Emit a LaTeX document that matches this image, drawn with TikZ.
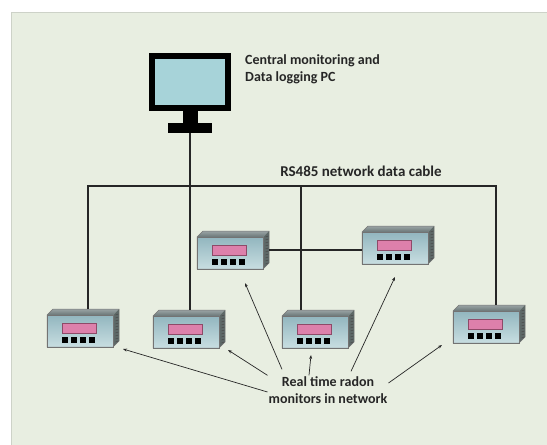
\documentclass[tikz,border=0pt]{standalone}
\usepackage{fontspec}
\setmainfont{Carlito}
\usepackage{tikz}
\usetikzlibrary{positioning,arrows.meta}
\usepackage{xcolor}
\definecolor{panel}{HTML}{E8EEE1}
\definecolor{panelrim}{HTML}{CDD2C8}
\definecolor{ink}{HTML}{262626}
\definecolor{pcscreen}{HTML}{A7D3D9}
\definecolor{facetop}{HTML}{92B6BF}
\definecolor{facebot}{HTML}{C8DEE1}
\definecolor{lidback}{HTML}{9AA4A5}
\definecolor{lidfront}{HTML}{6A7677}
\definecolor{flank}{HTML}{5E6968}
\definecolor{lcd}{HTML}{DD80AB}
\definecolor{lcdrim}{HTML}{8E4A68}

\begin{document}
\begin{tikzpicture}[x=1pt,y=-1pt,>={Stealth[length=4pt,width=3pt]},
  lbl/.style={font=\bfseries\fontsize{14}{17}\selectfont,text=ink,align=left,inner sep=1pt},
  cable/.style={line width=1.6pt,draw=black!85},
  pointer/.style={->,line width=0.7pt,draw=ink},
  radonbox/.style={minimum width=72pt,minimum height=38pt,inner sep=0pt,outer sep=0pt,anchor=north west}]
\useasboundingbox (0,0) rectangle (547,445);
\fill[white] (0,0) rectangle (547,445);
\fill[panel,draw=panelrim,line width=0.8pt] (11,12) rectangle (549,447);

% the PC
\node[draw=black,line width=6pt,fill=pcscreen,minimum width=76pt,minimum height=52pt,inner sep=0pt] (pc) at (190,81.5) {};
\node[fill=black,minimum width=15pt,minimum height=12pt,inner sep=0pt,below=0pt of pc] (pcneck) {};
\node[fill=black,minimum width=44pt,minimum height=10pt,inner sep=0pt,below=0pt of pcneck] (pcbase) {};
\node[lbl,anchor=north west] (pclbl) at (244,53) {Central monitoring and\\Data logging PC};

% radon monitors: lid, vented flank, front panel with display and keys
\foreach \n/\x/\y in {m1/47/309,m2/153/310,m3/197/231,m4/282/310,m5/453/305,m6/362/226} {
  \node[radonbox] (\n) at (\x,\y) {};
  \begin{scope}[shift={(\x,\y)}]
    \shade[top color=lidback,bottom color=lidfront] (0,6) -- (66,6) -- (72,0) -- (6,0) -- cycle;
    \fill[flank] (66,6) -- (72,0) -- (72,32) -- (66,38) -- cycle;
    \foreach \r in {6,9,...,33}
      \draw[black!70,line width=0.5pt] (68.5,\r) -- (71.5,\r-1);
    \shade[top color=facetop,bottom color=facebot,draw=black!55,line width=0.4pt] (0,6) rectangle (66,38);
    \fill[lcd,draw=lcdrim,line width=0.5pt] (15,14) rectangle (49,24);
    \foreach \k in {0,...,3}
      \fill[black] (15+9*\k,28) rectangle ++(6,6);
    \draw[black!55,line width=0.5pt] (0,38) -- (0,6) -- (6,0) -- (72,0) -- (72,32) -- (66,38) -- cycle;
  \end{scope}
}

% RS485 bus
\coordinate (bus) at (300,186);
\draw[cable] ([xshift=5pt]m1.north) |- (bus) -| ([xshift=7pt]m5.north);
\draw[cable] (pcbase.south) -- (pcbase.south |- m2.north);
\draw[cable] ([xshift=-17pt]m4.north) -- ([xshift=-17pt]m4.north |- bus);
\draw[cable] (m3.east) -- (m3.east -| m6.west);
\node[lbl,anchor=base,font=\bfseries\fontsize{15}{17}\selectfont] (buslbl) at (361,176) {RS485 network data cable};

% callout
\node[lbl,align=center] (radonlbl) at (328,390) {Real time radon\\monitors in network};
\draw[pointer] ([shift={(0,2)}]radonlbl.west) -- ([shift={(4,2)}]m1.south east);
\draw[pointer] (radonlbl.north west) -- ([shift={(3,2)}]m2.south east);
\draw[pointer] ([shift={(-46,-6)}]radonlbl.north) -- ([shift={(12,14)}]m3.south);
\draw[pointer] ([shift={(-19,0)}]radonlbl.north) -- ([shift={(-7,7)}]m4.south);
\draw[pointer] ([shift={(23,-4)}]radonlbl.north) -- ([shift={(-3,13)}]m6.south);
\draw[pointer] ([shift={(0,-7)}]radonlbl.east) -- ([shift={(-11,2)}]m5.south west);
\end{tikzpicture}
\end{document}
